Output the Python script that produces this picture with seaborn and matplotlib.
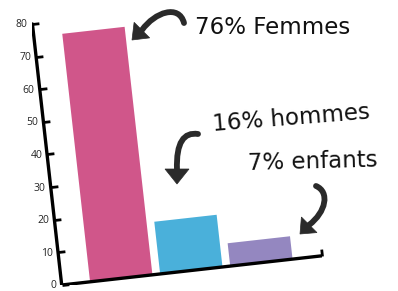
import matplotlib
matplotlib.use("Agg")
import numpy as np
import pandas as pd
import seaborn as sns
import matplotlib.pyplot as plt
from matplotlib.transforms import Affine2D
from matplotlib.path import Path
from matplotlib.patches import PathPatch, Polygon
import mpl_toolkits.axisartist.floating_axes as floating_axes
from mpl_toolkits.axisartist.grid_finder import FixedLocator

# ---- data ----
categories = ["Femmes", "Hommes", "Enfants"]
values = [76, 16, 7]
colors = ["#D0568A", "#4AB0DA", "#9487C0"]
y_ticks = [0, 10, 20, 30, 40, 50, 60, 70, 80]
annotations = ["76% Femmes", "16% hommes", "7% enfants"]

W, H = 398, 291
sns.set_style("white")
fig = plt.figure(figsize=(W / 100, H / 100), dpi=100)
fig.patch.set_facecolor("white")


def fxy(x, y):
    """image pixel -> figure fraction"""
    return (x / W, 1 - y / H)


# ---- rotated (tilted) axes ----
theta = 6.4
x0, x1 = -0.85, 2.87
y0, y1 = 0, 80
sx, sy = 70.5, 262.7 / 80
tr = Affine2D().translate(-x0, 0).scale(sx, sy).rotate_deg(theta)
corners = tr.transform([[x0, y0], [x1, y0], [x0, y1], [x1, y1]])
cx0, cy0 = corners.min(0)
cx1, cy1 = corners.max(0)
origin_px = (61.7, 6.0)  # display px (y up) of the data origin corner

grid_helper = floating_axes.GridHelperCurveLinear(
    tr, extremes=(x0, x1, y0, y1),
    grid_locator1=FixedLocator([x1 - 0.01]),
    grid_locator2=FixedLocator(y_ticks),
)
rect = [(origin_px[0] + cx0) / W, (origin_px[1] + cy0) / H,
        (cx1 - cx0) / W, (cy1 - cy0) / H]
ax = fig.add_axes(rect, axes_class=floating_axes.FloatingAxes,
                  grid_helper=grid_helper)
ax.set_xlim(cx0, cx1)
ax.set_ylim(cy0, cy1)
ax.patch.set_alpha(0)

ax.axis["top"].set_visible(False)
ax.axis["right"].set_visible(False)
for side in ["left", "bottom"]:
    a = ax.axis[side]
    a.line.set_linewidth(2.4)
    a.line.set_color("black")
    a.major_ticks.set_ticksize(5)
    a.major_ticks.set_markeredgewidth(2)
    a.major_ticks.set_markeredgecolor("black")
ax.axis["bottom"].major_ticklabels.set_visible(False)
lab = ax.axis["left"].major_ticklabels
lab.set_fontsize(7.5)
lab.set_fontfamily("Open Sans")
lab.set_color("#222222")
lab.set_pad(3)
lab.set_rotation(90 - theta)

aux_ax = ax.get_aux_axes(tr)

df = pd.DataFrame({"cat": categories, "val": values})
sns.barplot(data=df, x="cat", y="val", hue="cat", palette=colors,
            hue_order=categories, order=categories, width=0.89,
            saturation=1, linewidth=0, errorbar=None, legend=False,
            ax=aux_ax)

# ---- arrows (decorations) ----
dark = "#2a2a2a"


def curved_arrow(p0, p1, p2, p3, tip, d, L=14, w=11, lw=4.2):
    pts = [fxy(*p) for p in (p0, p1, p2, p3)]
    path = Path(pts, [Path.MOVETO, Path.CURVE4, Path.CURVE4, Path.CURVE4])
    fig.add_artist(PathPatch(path, fill=False, lw=lw, edgecolor=dark,
                             capstyle="round", transform=fig.transFigure))
    d = np.array(d, float)
    d /= np.linalg.norm(d)
    perp = np.array([-d[1], d[0]])
    tipv = np.array(tip, float)
    base = tipv - L * d
    tri = [tipv, base + w * perp, base - w * perp]
    fig.add_artist(Polygon([fxy(*p) for p in tri], closed=True,
                           facecolor=dark, edgecolor=dark, lw=0.5,
                           transform=fig.transFigure))


curved_arrow((184, 23), (179, 4), (155, 12), (142, 30), (132, 40), (-1, 1))
curved_arrow((198, 134), (184, 132), (176, 142), (177, 170), (177, 184), (0, 1),
             L=15, w=12)
curved_arrow((316, 186), (330, 192), (326, 212), (309, 225), (300, 234),
             (-1, 1), L=13, w=11)

# ---- annotation text ----
txt_kw = dict(fontsize=16.5, family="DejaVu Sans", color="#111111",
              ha="left", va="baseline", rotation_mode="anchor",
              transform=fig.transFigure)
fig.text(*fxy(195, 33.5), annotations[0], rotation=0, **txt_kw)
fig.text(*fxy(213, 131), annotations[1], rotation=4.5, **txt_kw)
fig.text(*fxy(248, 170), annotations[2], rotation=1.5, **txt_kw)

fig.savefig("out.png", dpi=100, facecolor="white")
